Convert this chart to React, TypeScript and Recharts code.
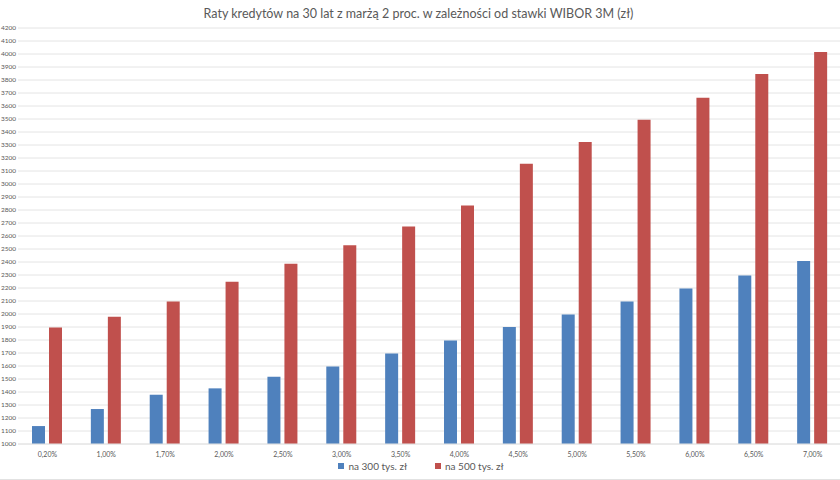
import { BarChart, Bar, XAxis, YAxis, CartesianGrid, Legend } from "recharts";

const title = "Raty kredytów na 30 lat z marżą 2 proc. w zależności od stawki WIBOR 3M (zł)";

const wiborRates = [
  "0,20%", "1,00%", "1,70%", "2,00%", "2,50%", "3,00%", "3,50%",
  "4,00%", "4,50%", "5,00%", "5,50%", "6,00%", "6,50%", "7,00%",
];

// rata dla kredytu 300 tys. zł
const loan300 = [1138, 1269, 1379, 1428, 1518, 1597, 1697, 1797, 1900, 1997, 2097, 2197, 2297, 2408];

// rata dla kredytu 500 tys. zł
const loan500 = [1897, 1979, 2097, 2248, 2387, 2528, 2674, 2835, 3156, 3323, 3495, 3664, 3846, 4015];

const seriesNames = ["na 300 tys. zł", "na 500 tys. zł"];
const seriesColors = ["#4f81bd", "#c0504d"];

const yTicks = [
  1000, 1100, 1200, 1300, 1400, 1500, 1600, 1700, 1800, 1900,
  2000, 2100, 2200, 2300, 2400, 2500, 2600, 2700, 2800, 2900,
  3000, 3100, 3200, 3300, 3400, 3500, 3600, 3700, 3800, 3900,
  4000, 4100, 4200,
];

const data = wiborRates.map((rate, i) => ({
  rate,
  a: loan300[i],
  b: loan500[i],
}));

const font = "Lato, 'Open Sans', sans-serif";

function LegendContent() {
  return (
    <div
      style={{
        display: "flex",
        justifyContent: "center",
        gap: 28,
        fontFamily: font,
        fontSize: 10,
        color: "#595959",
        height: 16,
        alignItems: "center",
      }}
    >
      {seriesNames.map((name, i) => (
        <div key={name} style={{ display: "flex", alignItems: "center", gap: 4 }}>
          <span style={{ width: 6, height: 6, background: seriesColors[i], display: "inline-block" }} />
          <span>{name}</span>
        </div>
      ))}
    </div>
  );
}

export default function App() {
  return (
    <div
      style={{
        position: "fixed",
        top: 0,
        left: 0,
        width: 840,
        height: 479,
        borderBottom: "1px solid #e2e2e2",
        background: "#fff",
        overflow: "hidden",
      }}
    >
      <div
        style={{
          position: "absolute",
          top: 6,
          left: 0,
          width: 837,
          textAlign: "center",
          fontFamily: font,
          fontSize: 12.5,
          color: "#595959",
          zIndex: 1,
        }}
      >
        {title}
      </div>
      <BarChart
        width={842}
        height={479}
        data={data}
        margin={{ top: 28, right: 0, left: 0, bottom: 5 }}
        barSize={13}
        barGap={4}
      >
        <CartesianGrid vertical={false} stroke="#e4e4e4" />
        <XAxis
          dataKey="rate"
          height={14}
          interval={0}
          tickLine={false}
          axisLine={{ stroke: "#e4e4e4" }}
          tick={{ fontSize: 7, fill: "#595959", fontFamily: font }}
        />
        <YAxis
          width={18}
          domain={[1000, 4200]}
          ticks={yTicks}
          interval={0}
          tickLine={false}
          axisLine={false}
          tickSize={1}
          tickMargin={1}
          tick={{ fontSize: 6.5, fill: "#595959", fontFamily: font }}
        />
        <Legend verticalAlign="bottom" content={<LegendContent />} />
        <Bar dataKey="a" name={seriesNames[0]} fill={seriesColors[0]} isAnimationActive={false} />
        <Bar dataKey="b" name={seriesNames[1]} fill={seriesColors[1]} isAnimationActive={false} />
      </BarChart>
    </div>
  );
}
